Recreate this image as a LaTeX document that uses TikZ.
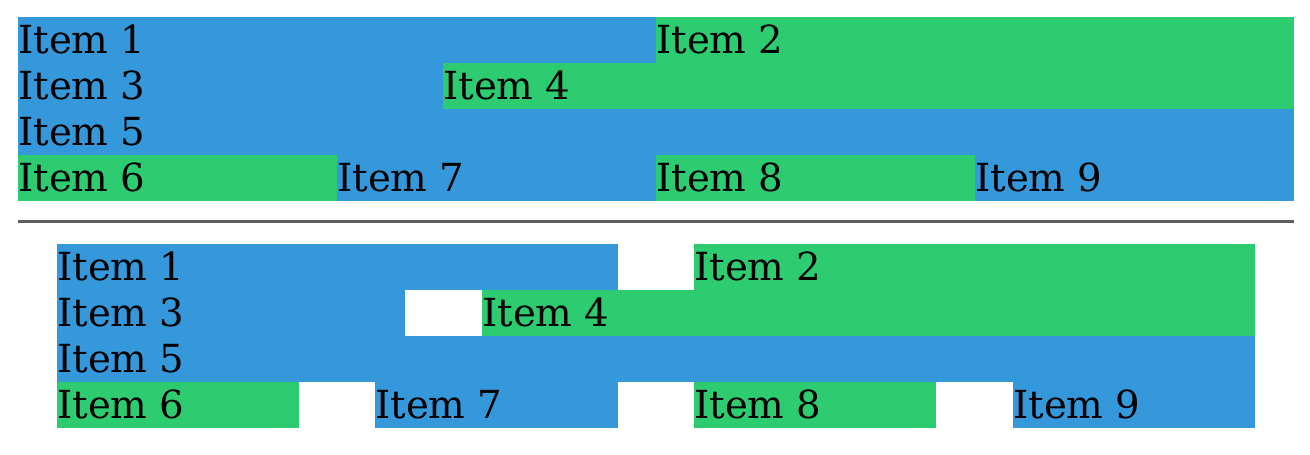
\documentclass[tikz,border=0pt]{standalone}
\usepackage{fontspec}
\setmainfont{DejaVu Serif}
\usepackage{tikz}

\definecolor{flatblue}{HTML}{3498DB}
\definecolor{flatgreen}{HTML}{2ECC71}
\definecolor{rulegray}{HTML}{5E5E5E}

\tikzset{
  itemlbl/.style={anchor=base west,inner sep=0pt,font=\fontsize{29}{34}\selectfont},
  bluebox/.style={fill=flatblue},
  greenbox/.style={fill=flatgreen}
}

\begin{document}
\begin{tikzpicture}[x=0.75pt,y=0.75pt,yscale=-1,xscale=1]
\useasboundingbox (0,0) rectangle (1310,454);

%Shape: Rectangle top rows
\fill [bluebox] (18,17) rectangle (656,63) ;
\fill [greenbox] (656,17) rectangle (1294,63) ;
\fill [bluebox] (18,63) rectangle (443,109) ;
\fill [greenbox] (443,63) rectangle (1294,109) ;
\fill [bluebox] (18,109) rectangle (1294,155) ;
\fill [greenbox] (18,155) rectangle (337,201) ;
\fill [bluebox] (337,155) rectangle (656,201) ;
\fill [greenbox] (656,155) rectangle (975,201) ;
\fill [bluebox] (975,155) rectangle (1294,201) ;

% Text Node
\node [itemlbl] (a1) at (18,53) {Item 1};
\node [itemlbl] (a2) at (656,53) {Item 2};
\node [itemlbl] (a3) at (18,99) {Item 3};
\node [itemlbl] (a4) at (443,99) {Item 4};
\node [itemlbl] (a5) at (18,145) {Item 5};
\node [itemlbl] (a6) at (18,191) {Item 6};
\node [itemlbl] (a7) at (337,191) {Item 7};
\node [itemlbl] (a8) at (656,191) {Item 8};
\node [itemlbl] (a9) at (975,191) {Item 9};

%Straight Lines
\coordinate (sepl) at (18,221.5);
\coordinate (sepr) at (1294,221.5);
\draw [rulegray,line width=2.6] (sepl) -- (sepr) ;

%Shape: Rectangle bottom rows
\fill [bluebox] (57,244) rectangle (618,290) ;
\fill [greenbox] (694,244) rectangle (1255,290) ;
\fill [bluebox] (57,290) rectangle (405,336) ;
\fill [greenbox] (482,290) rectangle (1255,336) ;
\fill [bluebox] (57,336) rectangle (1255,382) ;
\fill [greenbox] (57,382) rectangle (299,428) ;
\fill [bluebox] (375,382) rectangle (618,428) ;
\fill [greenbox] (694,382) rectangle (936,428) ;
\fill [bluebox] (1013,382) rectangle (1255,428) ;

% Text Node
\node [itemlbl] (b1) at (57,280) {Item 1};
\node [itemlbl] (b2) at (694,280) {Item 2};
\node [itemlbl] (b3) at (57,326) {Item 3};
\node [itemlbl] (b4) at (482,326) {Item 4};
\node [itemlbl] (b5) at (57,372) {Item 5};
\node [itemlbl] (b6) at (57,418) {Item 6};
\node [itemlbl] (b7) at (375,418) {Item 7};
\node [itemlbl] (b8) at (694,418) {Item 8};
\node [itemlbl] (b9) at (1013,418) {Item 9};

\end{tikzpicture}
\end{document}
